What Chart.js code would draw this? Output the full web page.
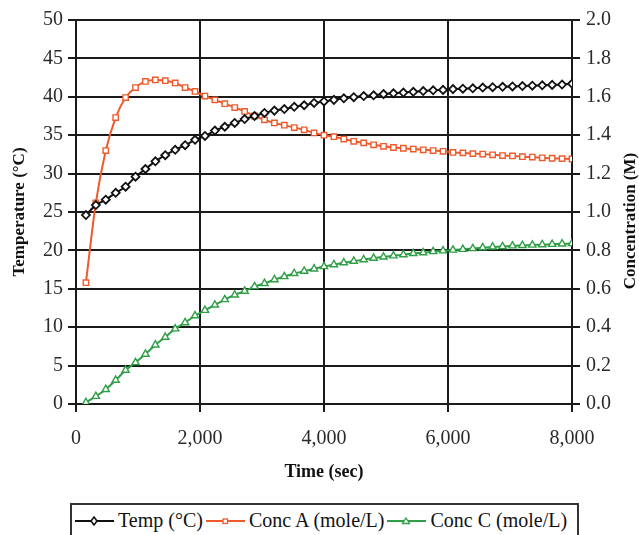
<!DOCTYPE html>
<html>
<head>
<meta charset="utf-8">
<script src="https://cdn.jsdelivr.net/npm/chart.js@4.4.1/dist/chart.umd.min.js"></script>
<style>
  html, body { margin: 0; padding: 0; background: #fff; overflow: hidden; }
  #wrap { position: relative; width: 639px; height: 535px; }
  #legend {
    position: absolute; left: 70px; top: 503px; width: 509px; height: 40px;
    border: 2px solid #333; box-sizing: border-box; background: #fff;
    display: flex; align-items: flex-start; padding-left: 3px; padding-top: 4px;
    font-family: "Liberation Serif", "Times New Roman", serif; font-size: 20px; color: #111;
    white-space: nowrap;
  }
  #legend .item { display: flex; align-items: center; margin-right: 3px; }
  #legend svg { margin-right: 4px; }
</style>
</head>
<body>
<div id="wrap">
  <canvas id="c" width="639" height="535"></canvas>
  <div id="legend"></div>
</div>
<script>
const times = [160,320,480,640,800,960,1120,1280,1440,1600,1760,1920,2080,2240,2400,2560,2720,2880,3040,3200,3360,3520,3680,3840,4000,4160,4320,4480,4640,4800,4960,5120,5280,5440,5600,5760,5920,6080,6240,6400,6560,6720,6880,7040,7200,7360,7520,7680,7840,8000];
const tempC = [24.6,25.9,26.6,27.5,28.3,29.6,30.6,31.6,32.4,33.1,33.7,34.4,34.9,35.6,36.1,36.6,37.1,37.5,37.9,38.2,38.4,38.7,38.9,39.2,39.4,39.6,39.8,39.95,40.1,40.2,40.35,40.45,40.55,40.65,40.75,40.85,40.9,41.0,41.05,41.1,41.2,41.25,41.3,41.35,41.4,41.45,41.5,41.55,41.6,41.7];
const concA = [0.632,1.048,1.32,1.492,1.596,1.648,1.68,1.688,1.684,1.672,1.648,1.628,1.604,1.584,1.564,1.544,1.524,1.5,1.48,1.464,1.452,1.44,1.428,1.412,1.40,1.392,1.38,1.368,1.36,1.35,1.342,1.336,1.332,1.328,1.324,1.32,1.316,1.31,1.308,1.304,1.302,1.298,1.294,1.292,1.288,1.286,1.282,1.28,1.278,1.276];
const concC = [0.008,0.04,0.076,0.124,0.176,0.216,0.26,0.308,0.348,0.392,0.424,0.46,0.488,0.516,0.544,0.568,0.588,0.612,0.628,0.648,0.664,0.68,0.692,0.704,0.716,0.726,0.736,0.744,0.752,0.76,0.766,0.772,0.778,0.784,0.788,0.794,0.798,0.802,0.806,0.81,0.814,0.818,0.82,0.824,0.826,0.828,0.83,0.832,0.834,0.836];
const seriesNames = ["Temp (°C)", "Conc A (mole/L)", "Conc C (mole/L)"];
const xTicks = [0, 2000, 4000, 6000, 8000];

const BLACK = "#111111", ORANGE = "#ee5a2c", GREEN = "#2f9e47";
const SERIF = "'Liberation Serif', 'Times New Roman', serif";

function pts(ys) { return times.map((t, i) => ({ x: t, y: ys[i] })); }

const rightTitle = {
  id: 'rightTitle',
  afterDraw(chart) {
    const ctx = chart.ctx;
    ctx.save();
    ctx.translate(631, 221);
    ctx.rotate(-Math.PI / 2);
    ctx.font = "bold 17px " + SERIF;
    ctx.fillStyle = BLACK;
    ctx.textAlign = "center";
    ctx.textBaseline = "middle";
    ctx.fillText("Concentration (M)", 0, 0);
    ctx.restore();
  }
};

const tickFont = { family: SERIF, size: 20 };
const gridCommon = { color: '#1a1a1a', lineWidth: 2, tickLength: 8, tickColor: '#1a1a1a', tickWidth: 2 };

new Chart(document.getElementById('c'), {
  type: 'line',
  data: {
    datasets: [
      { label: seriesNames[0], data: pts(tempC), yAxisID: 'y', borderColor: BLACK, borderWidth: 2,
        pointStyle: 'rectRot', pointRadius: 4, pointBorderWidth: 1.8, pointBackgroundColor: '#fff', pointBorderColor: BLACK,
        cubicInterpolationMode: 'monotone' },
      { label: seriesNames[1], data: pts(concA), yAxisID: 'y1', borderColor: ORANGE, borderWidth: 2,
        pointStyle: 'rect', pointRadius: 3.8, pointBorderWidth: 1.4, pointBackgroundColor: '#fff', pointBorderColor: ORANGE,
        cubicInterpolationMode: 'monotone' },
      { label: seriesNames[2], data: pts(concC), yAxisID: 'y1', borderColor: GREEN, borderWidth: 2,
        pointStyle: 'triangle', pointRadius: 4.2, pointBorderWidth: 1.4, pointBackgroundColor: '#fff', pointBorderColor: GREEN,
        cubicInterpolationMode: 'monotone' }
    ]
  },
  options: {
    responsive: false,
    animation: false,
    layout: { padding: { top: 20, bottom: 35, left: 0, right: 0 } },
    plugins: { legend: { display: false }, tooltip: { enabled: false } },
    scales: {
      x: {
        type: 'linear', min: 0, max: 8000,
        afterBuildTicks(s) { s.ticks = xTicks.map(v => ({ value: v })); },
        ticks: { font: tickFont, color: '#2a2a2a', padding: 15, maxRotation: 0,
                 callback: v => v.toLocaleString('en-US') },
        grid: gridCommon,
        border: { color: '#1a1a1a', width: 2 },
        title: { display: true, text: 'Time (sec)', font: { family: SERIF, size: 18, weight: 'bold' }, color: BLACK,
                 padding: { top: 0, bottom: 17 } },
        afterFit(s) { s.height = 96; }
      },
      y: {
        position: 'left', min: 0, max: 50,
        ticks: { stepSize: 5, font: tickFont, color: '#2a2a2a', padding: 5 },
        grid: gridCommon,
        border: { color: '#1a1a1a', width: 2 },
        title: { display: true, text: 'Temperature (°C)', font: { family: SERIF, size: 17, weight: 'bold' }, color: BLACK,
                 padding: { top: 9, bottom: 0 } },
        afterFit(s) { s.width = 76; }
      },
      y1: {
        position: 'right', min: 0, max: 2,
        ticks: { stepSize: 0.2, font: tickFont, color: '#2a2a2a', padding: 6, callback: v => v.toFixed(1) },
        grid: Object.assign({}, gridCommon, { drawOnChartArea: false }),
        border: { color: '#1a1a1a', width: 2 },
        afterFit(s) { s.width = 67; }
      }
    }
  },
  plugins: [rightTitle]
});

// legend
const icons = [
  { color: BLACK, shape: '<path d="M19 3 L22 7 L19 11 L16 7 Z" fill="#fff" stroke="' + BLACK + '" stroke-width="1.6"/>' },
  { color: ORANGE, shape: '<rect x="17" y="5" width="4.5" height="4.5" fill="#fff" stroke="' + ORANGE + '" stroke-width="1.3"/>' },
  { color: GREEN, shape: '<path d="M19 4 L22.5 9.5 L15.5 9.5 Z" fill="#fff" stroke="' + GREEN + '" stroke-width="1.3"/>' }
];
const leg = document.getElementById('legend');
seriesNames.forEach((name, i) => {
  const d = document.createElement('div');
  d.className = 'item';
  d.innerHTML = '<svg width="39" height="14"><line x1="0" y1="7" x2="39" y2="7" stroke="' + icons[i].color + '" stroke-width="1.8"/>' +
    icons[i].shape + '</svg><span>' + name + '</span>';
  leg.appendChild(d);
});
</script>
</body>
</html>
